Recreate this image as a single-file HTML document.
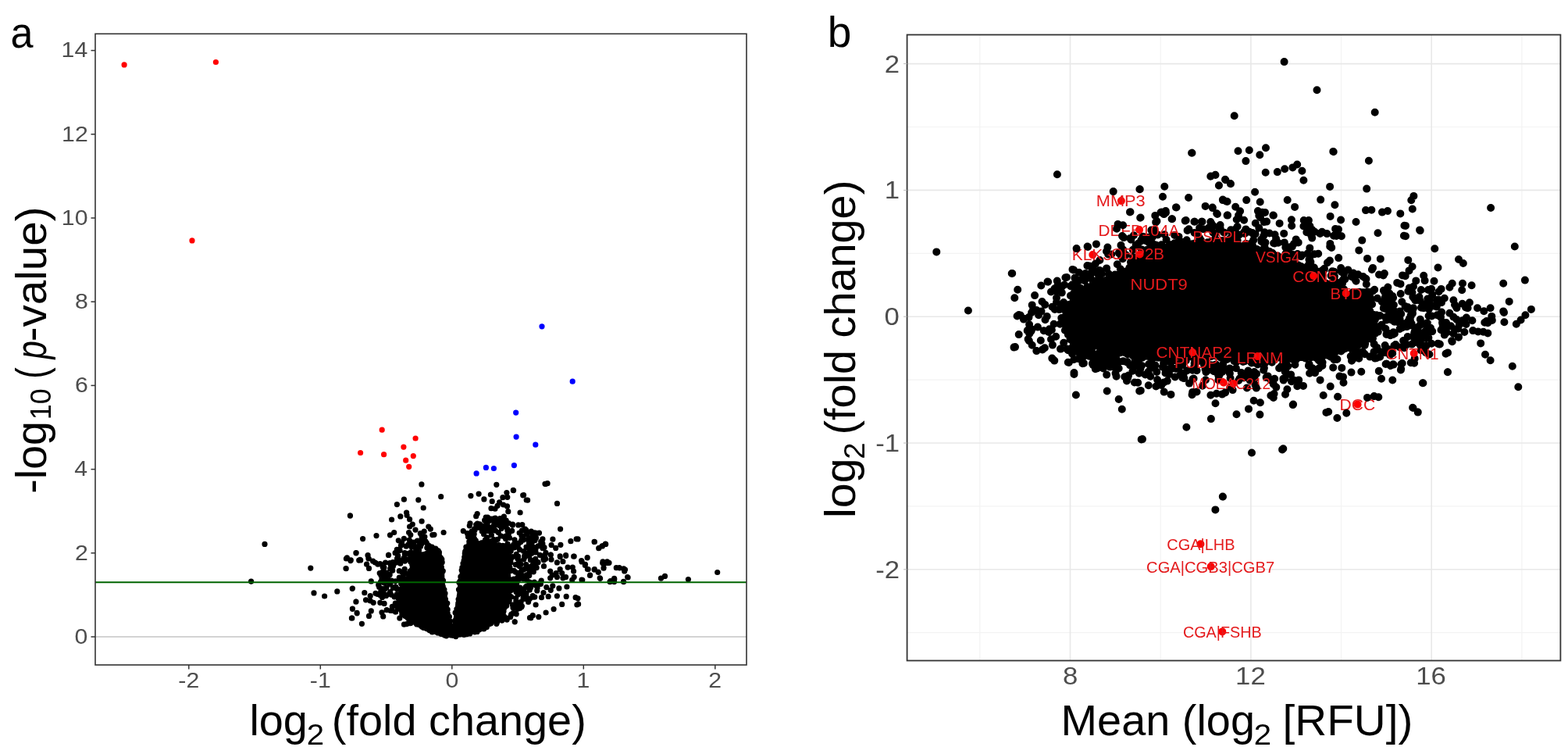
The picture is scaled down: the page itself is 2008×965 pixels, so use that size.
<!DOCTYPE html><html><head><meta charset="utf-8"><style>html,body{margin:0;padding:0;background:#fff;overflow:hidden}svg{display:block}</style></head><body><svg width="2008" height="965" viewBox="0 0 2008 965" font-family='"Liberation Sans", Arial, sans-serif'><rect width="2008" height="965" fill="#fff"/><line x1="122.0" x2="956.0" y1="815.0" y2="815.0" stroke="#c4c4c4" stroke-width="1.7"/><path d="M522.0 735.0 L528.0 718.0 L538.0 708.0 L550.0 703.0 L560.0 701.0 L564.8 705.0 L567.8 719.0 L569.2 733.5 L569.6 745.2 L572.8 762.6 L575.0 777.0 L577.7 791.0 L579.2 798.5 L580.7 791.0 L582.8 777.0 L585.0 762.6 L586.4 745.2 L588.6 733.5 L591.5 719.0 L592.2 704.5 L597.0 697.0 L603.0 693.0 L615.0 693.0 L635.0 694.0 L650.0 698.0 L655.0 710.0 L654.0 735.0 L653.0 760.0 L650.0 778.0 L642.0 790.0 L630.0 800.0 L618.0 808.0 L600.0 813.0 L580.0 817.0 L560.0 813.0 L545.0 808.0 L530.0 800.0 L518.0 792.0 L510.0 780.0 L508.0 765.0 L512.0 750.0 L517.0 742.0 Z" fill="#000"/><path d="M448.4 659.9h0M339.0 696.4h0M455.9 707.7h0M443.4 715.0h0M448.9 717.6h0M459.7 717.1h0M397.8 727.1h0M443.0 727.6h0M321.6 744.1h0M451.2 753.3h0M402.0 758.9h0M415.6 763.0h0M431.8 756.9h0M455.9 770.2h0M451.4 779.3h0M457.2 784.8h0M450.4 791.2h0M539.9 619.9h0M517.4 639.2h0M535.8 639.8h0M508.4 645.6h0M542.2 650.0h0M448.5 660.1h0M520.6 656.0h0M521.1 659.5h0M512.8 660.9h0M501.6 665.0h0M524.6 664.7h0M540.1 667.2h0M528.3 671.1h0M524.6 674.0h0M548.8 674.0h0M551.3 677.1h0M532.0 678.1h0M504.7 681.5h0M499.5 684.8h0M523.6 681.5h0M525.8 684.6h0M543.2 680.2h0M538.3 682.7h0M543.9 687.1h0M540.1 687.1h0M553.8 684.6h0M482.0 685.6h0M464.6 689.6h0M517.4 689.3h0M510.3 691.8h0M514.6 694.5h0M534.5 692.0h0M513.4 698.3h0M522.7 697.0h0M527.1 700.1h0M532.7 699.5h0M532.7 703.2h0M512.1 704.5h0M529.6 707.6h0M518.4 707.6h0M553.2 700.1h0M456.2 707.6h0M471.1 710.7h0M497.5 710.4h0M509.7 712.6h0M444.4 713.8h0M449.3 716.9h0M461.1 716.3h0M472.3 715.0h0M456.0 707.8h0M444.0 714.3h0M449.1 717.3h0M461.7 716.9h0M443.2 727.7h0M471.0 710.8h0M471.9 714.8h0M477.6 718.2h0M469.6 722.2h0M472.5 727.4h0M480.5 720.0h0M483.9 722.2h0M486.8 721.7h0M490.2 725.7h0M493.6 720.0h0M497.6 710.3h0M499.3 720.5h0M503.9 722.8h0M502.7 730.2h0M486.2 733.6h0M489.0 737.6h0M494.2 734.2h0M496.4 738.2h0M475.3 743.9h0M497.0 745.0h0M451.4 753.0h0M485.6 751.3h0M490.2 753.6h0M466.8 758.7h0M474.2 762.7h0M481.0 759.3h0M483.3 760.4h0M491.3 760.4h0M468.5 767.8h0M474.2 769.0h0M478.2 771.3h0M486.8 771.3h0M456.0 770.1h0M451.4 779.2h0M457.1 784.4h0M450.8 791.2h0M463.4 798.3h0M475.3 781.9h0M472.5 788.4h0M489.0 783.8h0M490.7 788.9h0M511.8 791.2h0M517.5 799.2h0M509.6 704.6h0M509.6 713.1h0M518.7 708.0h0M530.1 708.0h0M635.8 620.3h0M657.6 627.6h0M648.9 630.5h0M669.7 633.8h0M564.7 635.7h0M602.9 634.6h0M613.1 632.1h0M628.4 633.0h0M619.9 638.9h0M643.9 636.7h0M649.8 636.3h0M674.2 640.0h0M630.2 641.7h0M639.6 642.9h0M644.6 646.0h0M649.5 647.9h0M637.1 647.3h0M629.0 650.7h0M634.0 651.2h0M650.8 654.7h0M666.1 656.0h0M611.2 657.5h0M609.7 660.7h0M622.2 662.2h0M632.7 663.7h0M645.4 661.2h0M640.8 664.9h0M602.0 669.9h0M601.3 672.8h0M609.7 671.5h0M656.4 672.1h0M663.8 671.9h0M668.8 671.5h0M593.3 679.6h0M598.5 682.7h0M568.1 681.5h0M556.0 684.3h0M672.5 677.1h0M607.2 677.7h0M657.3 627.4h0M699.1 619.3h0M698.0 619.3h0M701.1 618.7h0M670.6 633.6h0M675.6 640.2h0M713.5 644.4h0M717.6 677.1h0M707.9 690.2h0M730.9 692.7h0M738.2 689.8h0M761.4 693.5h0M775.7 696.4h0M771.4 698.9h0M767.0 701.4h0M717.9 697.3h0M706.1 697.6h0M711.7 701.4h0M734.7 712.2h0M724.7 711.3h0M717.3 712.6h0M705.4 710.1h0M752.1 713.8h0M744.6 717.5h0M772.0 718.8h0M777.6 718.8h0M686.2 682.1h0M690.5 682.1h0M673.7 678.4h0M694.9 695.8h0M694.9 701.4h0M705.3 710.0h0M717.2 711.8h0M724.6 710.6h0M735.2 712.1h0M752.2 713.7h0M745.1 718.7h0M749.5 722.4h0M720.9 718.7h0M713.4 719.9h0M706.0 716.2h0M771.9 719.9h0M778.1 720.5h0M773.1 726.7h0M727.1 726.1h0M733.3 726.1h0M734.6 731.1h0M753.2 728.6h0M761.3 728.6h0M766.3 732.3h0M755.7 736.1h0M768.2 739.8h0M745.8 742.3h0M735.2 738.6h0M732.7 742.3h0M786.8 741.0h0M781.8 743.5h0M789.3 726.7h0M717.2 728.6h0M719.7 733.6h0M724.6 738.6h0M712.2 733.6h0M704.7 731.1h0M707.2 736.1h0M704.7 739.8h0M713.4 738.6h0M720.9 739.8h0M725.9 751.0h0M715.9 752.9h0M707.8 749.8h0M699.8 751.6h0M705.3 755.3h0M713.4 762.8h0M725.2 763.4h0M737.1 764.7h0M738.9 774.0h0M719.7 773.4h0M709.1 779.6h0M699.1 784.0h0M689.8 789.6h0M679.9 790.8h0M682.3 787.7h0M659.3 795.8h0M661.2 785.8h0M686.1 774.0h0M702.2 763.4h0M693.5 764.7h0M684.8 764.1h0M696.0 758.5h0M659.2 795.8h0M660.9 785.6h0M678.5 790.7h0M780.0 720.3h0M793.1 726.5h0M798.7 727.8h0M800.5 729.0h0M803.6 738.6h0M798.7 744.6h0M786.2 741.5h0M781.2 744.6h0M846.5 740.2h0M851.5 737.4h0M881.4 741.5h0M918.7 732.5h0M761.1 693.4h0M775.4 696.1h0M771.1 698.9h0M766.7 701.7h0M752.2 713.8h0M745.0 718.9h0M749.3 723.5h0M752.4 728.5h0M755.5 736.5h0M761.1 729.1h0M766.1 732.2h0M768.6 740.3h0M771.7 720.4h0M777.3 720.4h0M773.0 727.2h0M793.5 727.0h0M799.7 728.5h0M799.7 730.9h0M804.1 739.0h0M798.5 744.4h0M786.6 740.3h0M786.6 744.6h0M781.0 744.6h0M745.0 742.1h0M740.0 689.9h0M740.0 765.8h0M740.6 773.2h0M709.1 779.6h0M738.9 774.0h0M649.2 793.1h0M682.1 717.9h0M674.4 735.8h0M617.2 697.5h0M674.0 700.0h0M652.3 699.5h0M649.7 677.1h0M660.8 769.0h0M643.8 669.7h0M662.7 779.5h0M657.7 697.2h0M683.3 731.8h0M649.1 765.7h0M667.1 770.4h0M615.9 672.3h0M687.2 726.6h0M624.5 662.0h0M663.2 761.1h0M682.9 700.2h0M689.1 719.8h0M664.7 695.1h0M675.9 690.4h0M681.9 683.9h0M667.9 685.8h0M664.0 720.9h0M686.2 748.9h0M680.3 708.5h0M652.5 688.3h0M622.7 671.2h0M668.6 678.9h0M665.2 724.4h0M657.0 777.7h0M671.6 711.7h0M607.4 689.3h0M678.3 766.5h0M667.7 730.5h0M618.1 679.4h0M648.6 770.1h0M650.7 681.7h0M696.4 716.8h0M636.6 796.5h0M661.0 757.4h0M650.2 703.9h0M637.1 791.8h0M674.9 711.0h0M662.7 714.0h0M697.0 700.7h0M673.8 722.5h0M684.3 745.2h0M679.8 748.6h0M609.3 691.9h0M654.5 714.9h0M678.3 745.1h0M658.6 701.0h0M677.4 695.9h0M652.2 768.6h0M651.0 746.0h0M599.5 687.0h0M666.2 740.3h0M624.7 679.6h0M600.8 685.3h0M642.9 794.1h0M665.8 778.5h0M623.1 697.7h0M626.0 674.6h0M673.1 751.4h0M640.7 756.2h0M644.2 783.9h0M628.9 664.0h0M674.4 708.0h0M639.6 672.4h0M692.4 747.5h0M608.1 676.7h0M644.5 673.8h0M661.7 746.7h0M665.7 757.3h0M602.8 684.1h0M654.0 730.4h0M696.5 724.7h0M660.5 695.8h0M637.5 792.6h0M663.5 742.3h0M618.0 680.2h0M634.0 669.1h0M679.8 698.1h0M673.6 678.6h0M616.5 694.8h0M647.4 733.6h0M645.8 736.2h0M649.6 703.2h0M647.8 666.1h0M652.5 720.4h0M667.9 776.8h0M622.0 675.0h0M645.6 749.9h0M635.9 798.3h0M680.6 725.9h0M663.2 699.7h0M670.0 691.1h0M605.5 690.2h0M666.9 722.2h0M651.5 682.9h0M645.2 772.2h0M662.9 739.2h0M686.5 688.4h0M655.7 679.3h0M670.5 738.4h0M640.0 788.5h0M685.0 691.7h0M653.6 789.7h0M670.9 715.8h0M669.8 761.5h0M679.7 698.7h0M661.2 772.6h0M688.7 719.3h0M623.6 663.8h0M678.3 754.9h0M639.8 664.6h0M633.3 673.1h0M670.6 705.5h0M668.1 735.9h0M645.0 782.2h0M651.6 721.6h0M658.2 730.3h0M671.8 679.2h0M670.4 754.9h0M670.8 740.9h0M678.0 730.8h0M619.5 674.1h0M633.0 690.8h0M614.3 670.9h0M649.9 678.9h0M650.6 736.4h0M647.6 689.7h0M641.2 782.0h0M692.7 693.4h0M671.5 728.3h0M677.9 711.0h0M652.4 712.2h0M689.1 698.8h0M698.6 715.3h0M647.7 686.1h0M681.4 707.8h0M667.7 691.4h0M620.6 665.9h0M619.5 683.6h0M632.2 672.5h0M663.6 712.2h0M654.5 786.9h0M693.2 743.0h0M648.2 666.2h0M685.0 721.1h0M675.0 683.0h0M659.4 777.3h0M651.1 722.8h0M656.4 774.2h0M656.3 712.7h0M697.7 712.1h0M622.2 676.4h0M641.4 773.2h0M670.0 688.9h0M661.7 774.9h0M695.5 711.3h0M658.7 750.0h0M641.0 784.3h0M642.4 762.5h0M640.8 699.8h0M679.6 700.6h0M641.0 699.0h0M678.5 705.3h0M672.8 712.3h0M613.5 671.4h0M643.9 756.7h0M685.7 715.3h0M670.0 765.9h0M604.1 680.2h0M674.0 759.1h0M679.3 707.3h0M631.4 676.4h0M642.3 676.3h0M652.5 747.8h0M656.5 671.0h0M660.7 765.6h0M681.2 687.9h0M681.4 693.9h0M679.3 750.3h0M679.4 716.7h0M642.8 789.5h0M603.4 682.7h0M679.6 725.3h0M637.3 690.3h0M640.2 761.0h0M657.3 784.4h0M648.3 671.7h0M646.6 668.4h0M683.2 764.1h0M631.5 666.4h0M659.0 690.9h0M668.4 679.1h0M666.0 752.1h0M671.5 766.4h0M639.1 665.7h0M650.0 696.1h0M684.6 682.0h0M623.6 687.8h0M634.2 663.2h0M641.6 667.6h0M621.4 691.2h0M630.3 678.4h0M645.0 756.6h0M685.4 703.5h0M661.3 756.0h0M652.6 752.5h0M608.0 678.6h0M695.9 715.7h0M674.4 750.2h0M654.2 755.4h0M638.3 681.6h0M608.4 691.0h0M660.1 732.1h0M634.4 679.1h0M657.9 741.1h0M665.4 703.4h0M661.3 709.4h0M680.3 680.1h0M644.1 777.9h0M643.3 744.5h0M676.6 770.5h0M682.1 701.3h0M650.8 739.5h0M674.2 710.8h0M694.9 689.9h0M645.7 789.0h0M622.4 692.6h0M651.4 669.5h0M658.9 696.0h0M660.4 722.7h0M685.9 703.1h0M675.9 700.8h0M645.2 741.1h0M633.8 692.1h0M669.3 736.8h0M666.9 693.6h0M670.4 729.2h0M624.6 668.3h0M660.7 748.4h0M637.2 786.3h0M674.2 683.4h0M631.8 694.8h0M685.1 704.8h0M674.3 725.0h0M654.2 705.3h0M698.2 714.6h0M688.1 752.2h0M691.3 710.3h0M681.8 723.7h0M682.2 762.5h0M650.0 686.5h0M679.6 751.9h0M659.4 696.8h0M600.8 693.2h0M654.0 719.9h0M644.0 772.1h0M646.1 686.9h0M653.7 763.4h0M667.4 774.5h0M625.0 692.9h0M652.6 712.9h0M674.0 679.3h0M607.2 683.6h0M668.4 775.8h0M662.1 741.6h0M640.9 767.5h0M627.4 697.7h0M616.8 697.7h0M639.7 776.1h0M664.7 717.7h0M678.0 745.1h0M644.4 784.3h0M665.2 682.0h0M674.7 741.8h0M652.3 719.3h0M648.4 791.0h0M617.3 680.0h0M666.2 771.2h0M646.4 723.3h0M611.3 670.2h0M655.6 745.3h0M698.9 707.4h0M690.6 746.7h0M656.1 751.7h0M684.8 681.9h0M641.3 685.9h0M654.6 763.8h0M694.2 693.9h0M646.2 765.5h0M617.0 673.8h0M678.1 688.9h0M629.5 692.7h0M654.9 786.1h0M647.8 742.1h0M653.6 755.9h0M677.8 736.4h0M662.5 776.0h0M662.9 753.7h0M686.1 706.8h0M650.2 770.4h0M646.9 758.6h0M644.9 673.2h0M653.9 704.6h0M683.4 726.1h0M640.3 663.7h0M612.9 675.2h0M673.9 762.4h0M687.8 755.9h0M662.8 715.1h0M627.7 666.0h0M675.3 725.7h0M611.8 675.2h0M633.1 690.8h0M663.2 733.6h0M629.4 684.9h0M647.5 752.9h0M528.5 773.4h0M500.2 722.7h0M526.0 734.0h0M534.0 715.3h0M525.9 711.0h0M532.4 761.0h0M523.5 708.4h0M539.8 690.5h0M534.2 708.7h0M501.4 743.0h0M510.3 703.3h0M513.4 717.9h0M533.5 753.6h0M542.2 691.3h0M499.6 757.7h0M527.8 783.2h0M490.1 731.9h0M514.7 748.0h0M510.7 773.0h0M513.8 755.4h0M490.4 742.0h0M526.2 753.8h0M538.9 723.6h0M519.8 773.5h0M547.4 718.0h0M542.6 737.9h0M511.2 730.7h0M520.9 798.6h0M494.9 752.0h0M533.2 771.4h0M489.1 757.7h0M518.2 728.4h0M557.8 702.0h0M537.9 713.1h0M518.5 718.1h0M524.6 787.7h0M489.5 764.4h0M548.9 698.2h0M539.6 696.5h0M522.7 760.5h0M495.2 780.6h0M500.8 743.8h0M502.3 776.3h0M503.1 719.6h0M533.2 727.5h0M529.4 731.2h0M550.9 708.0h0M523.8 756.9h0M514.5 783.1h0M514.8 731.9h0M509.5 763.1h0M503.4 752.3h0M544.0 711.6h0M515.3 743.7h0M517.9 763.2h0M527.2 792.7h0M493.0 753.5h0M530.2 789.4h0M523.2 759.2h0M538.4 699.5h0M487.7 757.4h0M527.5 741.4h0M484.7 748.7h0M489.5 764.5h0M488.0 755.8h0M531.4 756.3h0M506.7 751.0h0M516.9 781.2h0M490.4 731.5h0M517.6 757.5h0M510.3 765.9h0M499.9 747.6h0M508.3 760.5h0M528.1 767.5h0M516.7 716.4h0M512.5 721.0h0M535.9 723.7h0M511.9 771.8h0M535.2 708.2h0M528.6 795.4h0M499.2 735.4h0M492.7 753.9h0M507.6 773.8h0M523.8 750.9h0M494.9 733.2h0M534.4 767.0h0M509.6 711.1h0M534.8 709.1h0M529.7 694.8h0M488.0 736.6h0M518.1 783.7h0M514.8 786.4h0M517.1 714.4h0M520.3 782.7h0M551.3 699.8h0M503.5 724.4h0M497.3 742.8h0M488.9 741.6h0M555.4 707.3h0M551.4 725.7h0M530.0 771.3h0M543.2 737.5h0M506.1 707.7h0M522.9 715.9h0M537.2 751.0h0M514.0 767.5h0M530.3 713.6h0M508.2 753.4h0M500.1 781.5h0M517.5 770.5h0M508.5 715.0h0M542.9 725.2h0M512.4 767.7h0M529.6 763.3h0M495.2 761.4h0M499.7 727.8h0M506.6 783.2h0M528.1 727.4h0M524.7 742.1h0M525.4 716.8h0M512.4 741.8h0M529.1 713.4h0M545.0 692.8h0M501.0 761.2h0M494.0 737.5h0M506.7 720.3h0M508.3 703.3h0M553.6 707.9h0M516.7 740.3h0M502.0 781.5h0M492.3 746.2h0M524.2 691.1h0M545.6 730.5h0M518.8 708.2h0M514.3 741.1h0M529.8 694.0h0M516.5 745.3h0M536.1 739.7h0M530.3 793.5h0M527.8 782.9h0M546.5 733.6h0M509.0 778.5h0M497.5 745.3h0M512.7 721.2h0M534.8 742.5h0M527.5 785.5h0M535.4 704.5h0M526.4 756.7h0M500.5 726.8h0M526.5 732.1h0M535.5 738.7h0M523.1 797.6h0M487.2 762.0h0M540.0 710.4h0M549.4 703.9h0M545.5 711.8h0M516.4 734.7h0M527.5 761.7h0M524.0 793.8h0M496.8 740.2h0M522.5 743.1h0M546.8 701.1h0M516.4 777.0h0M533.3 706.9h0M499.9 746.7h0M548.1 727.4h0M492.1 772.4h0M526.1 706.9h0M506.4 743.8h0M508.4 753.4h0M513.3 775.1h0M534.0 765.8h0M535.2 755.9h0M515.0 759.2h0M511.2 739.2h0M506.3 772.2h0M548.2 728.3h0M544.8 712.3h0M534.3 758.0h0M490.2 756.2h0M487.5 744.9h0M524.8 797.6h0M531.7 725.0h0M525.8 718.9h0M536.5 704.2h0M522.9 777.2h0M525.7 797.7h0M521.1 741.4h0M525.4 730.8h0M488.4 754.3h0M513.6 747.1h0M537.2 734.5h0M530.4 732.6h0M537.3 696.2h0M494.5 762.4h0M509.1 713.7h0M527.9 760.1h0M550.1 728.6h0M521.5 715.9h0M518.4 709.3h0M510.3 762.7h0M505.0 763.8h0M519.7 734.2h0M536.9 758.1h0M509.6 711.0h0M529.8 699.9h0M535.3 778.7h0M546.3 694.8h0M525.6 693.1h0M520.2 699.2h0M527.8 698.7h0M543.8 714.2h0M491.9 726.4h0M538.5 737.1h0M522.7 773.6h0M524.6 733.1h0M527.5 729.9h0M527.8 722.9h0M528.0 722.2h0M532.1 718.8h0M534.5 714.4h0M538.9 709.7h0M542.6 709.8h0M549.9 704.8h0M552.0 704.9h0M559.4 704.1h0M561.2 704.8h0M562.4 706.9h0M564.5 713.9h0M565.8 715.9h0M566.2 719.7h0M565.3 726.2h0M567.3 730.8h0M565.6 734.6h0M567.5 743.0h0M567.0 750.7h0M568.9 754.6h0M570.0 759.4h0M570.5 767.2h0M572.8 772.0h0M571.8 773.2h0M573.2 780.2h0M573.0 784.7h0M575.4 789.3h0M576.5 795.1h0M582.8 794.3h0M584.8 788.2h0M583.1 784.2h0M584.9 779.7h0M586.9 773.7h0M587.0 771.9h0M587.1 767.0h0M588.3 762.8h0M587.5 754.6h0M587.9 745.6h0M589.2 743.6h0M589.9 738.2h0M591.2 729.8h0M591.9 726.3h0M593.0 721.2h0M594.1 717.6h0M594.8 713.1h0M595.3 708.4h0M596.9 700.1h0M600.9 696.1h0M604.0 695.1h0M613.2 695.8h0M617.6 694.9h0M621.3 696.3h0M627.3 695.7h0M630.3 695.2h0M639.0 697.5h0M644.0 698.3h0M647.5 699.3h0M650.5 704.0h0M650.5 708.7h0M652.2 713.5h0M652.2 716.7h0M653.0 720.0h0M652.9 726.3h0M651.8 731.1h0M650.3 739.2h0M651.4 740.0h0M650.4 748.3h0M652.1 750.7h0M651.1 756.2h0M651.1 760.5h0M649.9 767.2h0M649.4 769.5h0M648.7 775.3h0M645.7 778.0h0M642.6 783.6h0M639.2 787.8h0M637.9 789.6h0M634.9 792.5h0M628.7 797.8h0M626.7 798.7h0M623.3 802.6h0M619.6 805.0h0M613.1 806.2h0M611.1 808.4h0M608.0 808.8h0M601.7 810.9h0M597.8 811.7h0M594.2 812.5h0M588.8 811.9h0M583.8 814.6h0M576.6 812.6h0M571.6 813.8h0M569.6 813.2h0M565.0 811.5h0M560.7 809.9h0M553.5 809.0h0M550.4 807.0h0M542.4 803.5h0M540.3 801.9h0M533.7 798.9h0M528.0 795.1h0M527.2 794.6h0M522.6 791.2h0M518.7 788.3h0M516.1 786.7h0M511.2 779.3h0M512.3 779.4h0M511.3 770.0h0M511.0 764.6h0M512.3 761.7h0M514.1 756.2h0M514.0 754.1h0M516.4 749.9h0M517.9 744.8h0M519.7 743.5h0" stroke="#000" stroke-width="7.20" stroke-linecap="round" fill="none"/><path d="M159.1 82.9h0M276.4 79.5h0M246.0 307.9h0M489.2 550.2h0M532.1 561.0h0M516.9 572.1h0M461.6 579.5h0M491.6 581.7h0M529.3 583.6h0M519.7 589.2h0M523.7 597.3h0" stroke="#ff0000" stroke-width="7.20" stroke-linecap="round" fill="none"/><path d="M694.0 417.8h0M733.2 488.2h0M660.7 528.1h0M661.1 559.1h0M685.8 569.2h0M658.4 595.6h0M622.4 598.4h0M632.4 599.5h0M610.1 605.9h0" stroke="#0000ff" stroke-width="7.20" stroke-linecap="round" fill="none"/><line x1="122.0" x2="956.0" y1="745.3" y2="745.3" stroke="#006400" stroke-width="2"/><rect x="122.0" y="43.3" width="834.0" height="807.7" fill="none" stroke="#333333" stroke-width="1.6"/><line x1="116.5" x2="122.0" y1="815.0" y2="815.0" stroke="#333333" stroke-width="1.5"/><text transform="translate(95.62 823.80) scale(1.1000 1)" font-size="27.50" fill="#4d4d4d">0</text><line x1="116.5" x2="122.0" y1="707.8" y2="707.8" stroke="#333333" stroke-width="1.5"/><text transform="translate(95.90 716.60) scale(1.1000 1)" font-size="27.50" fill="#4d4d4d">2</text><line x1="116.5" x2="122.0" y1="600.6" y2="600.6" stroke="#333333" stroke-width="1.5"/><text transform="translate(95.35 609.40) scale(1.1000 1)" font-size="27.50" fill="#4d4d4d">4</text><line x1="116.5" x2="122.0" y1="493.4" y2="493.4" stroke="#333333" stroke-width="1.5"/><text transform="translate(95.90 502.20) scale(1.1000 1)" font-size="27.50" fill="#4d4d4d">6</text><line x1="116.5" x2="122.0" y1="386.2" y2="386.2" stroke="#333333" stroke-width="1.5"/><text transform="translate(95.90 395.00) scale(1.1000 1)" font-size="27.50" fill="#4d4d4d">8</text><line x1="116.5" x2="122.0" y1="279.0" y2="279.0" stroke="#333333" stroke-width="1.5"/><text transform="translate(78.85 287.80) scale(1.1000 1)" font-size="27.50" fill="#4d4d4d">10</text><line x1="116.5" x2="122.0" y1="171.8" y2="171.8" stroke="#333333" stroke-width="1.5"/><text transform="translate(79.12 180.60) scale(1.1000 1)" font-size="27.50" fill="#4d4d4d">12</text><line x1="116.5" x2="122.0" y1="64.6" y2="64.6" stroke="#333333" stroke-width="1.5"/><text transform="translate(78.57 73.40) scale(1.1000 1)" font-size="27.50" fill="#4d4d4d">14</text><line x1="241.8" x2="241.8" y1="851.0" y2="856.5" stroke="#333333" stroke-width="1.5"/><text transform="translate(228.32 879.50) scale(1.1000 1)" font-size="27.50" fill="#4d4d4d">-2</text><line x1="410.3" x2="410.3" y1="851.0" y2="856.5" stroke="#333333" stroke-width="1.5"/><text transform="translate(396.82 879.50) scale(1.1000 1)" font-size="27.50" fill="#4d4d4d">-1</text><line x1="578.8" x2="578.8" y1="851.0" y2="856.5" stroke="#333333" stroke-width="1.5"/><text transform="translate(570.41 879.50) scale(1.1000 1)" font-size="27.50" fill="#4d4d4d">0</text><line x1="747.3" x2="747.3" y1="851.0" y2="856.5" stroke="#333333" stroke-width="1.5"/><text transform="translate(738.50 879.50) scale(1.1000 1)" font-size="27.50" fill="#4d4d4d">1</text><line x1="915.8" x2="915.8" y1="851.0" y2="856.5" stroke="#333333" stroke-width="1.5"/><text transform="translate(907.27 879.50) scale(1.1000 1)" font-size="27.50" fill="#4d4d4d">2</text><line x1="1254.8" x2="1254.8" y1="44.5" y2="845.5" stroke="#f3f3f3" stroke-width="1.2"/><line x1="1486.2" x2="1486.2" y1="44.5" y2="845.5" stroke="#f3f3f3" stroke-width="1.2"/><line x1="1717.5" x2="1717.5" y1="44.5" y2="845.5" stroke="#f3f3f3" stroke-width="1.2"/><line x1="1948.9" x2="1948.9" y1="44.5" y2="845.5" stroke="#f3f3f3" stroke-width="1.2"/><line x1="1161.6" x2="1998.4" y1="809.7" y2="809.7" stroke="#f3f3f3" stroke-width="1.2"/><line x1="1161.6" x2="1998.4" y1="647.9" y2="647.9" stroke="#f3f3f3" stroke-width="1.2"/><line x1="1161.6" x2="1998.4" y1="486.1" y2="486.1" stroke="#f3f3f3" stroke-width="1.2"/><line x1="1161.6" x2="1998.4" y1="324.3" y2="324.3" stroke="#f3f3f3" stroke-width="1.2"/><line x1="1161.6" x2="1998.4" y1="162.5" y2="162.5" stroke="#f3f3f3" stroke-width="1.2"/><line x1="1370.5" x2="1370.5" y1="44.5" y2="845.5" stroke="#e8e8e8" stroke-width="1.6"/><line x1="1601.9" x2="1601.9" y1="44.5" y2="845.5" stroke="#e8e8e8" stroke-width="1.6"/><line x1="1833.2" x2="1833.2" y1="44.5" y2="845.5" stroke="#e8e8e8" stroke-width="1.6"/><line x1="1161.6" x2="1998.4" y1="728.8" y2="728.8" stroke="#e8e8e8" stroke-width="1.6"/><line x1="1161.6" x2="1998.4" y1="567.0" y2="567.0" stroke="#e8e8e8" stroke-width="1.6"/><line x1="1161.6" x2="1998.4" y1="405.2" y2="405.2" stroke="#e8e8e8" stroke-width="1.6"/><line x1="1161.6" x2="1998.4" y1="243.4" y2="243.4" stroke="#e8e8e8" stroke-width="1.6"/><line x1="1161.6" x2="1998.4" y1="81.6" y2="81.6" stroke="#e8e8e8" stroke-width="1.6"/><path d="M1360.0 405.0 L1366.0 390.0 L1374.0 378.0 L1385.0 368.0 L1400.0 360.0 L1420.0 352.0 L1440.0 345.0 L1450.0 335.0 L1460.0 318.0 L1470.0 314.0 L1490.0 318.0 L1520.0 314.0 L1540.0 310.0 L1565.0 308.0 L1600.0 312.0 L1630.0 320.0 L1660.0 335.0 L1700.0 358.0 L1745.0 384.0 L1760.0 400.0 L1765.0 418.0 L1755.0 435.0 L1740.0 445.0 L1720.0 452.0 L1690.0 460.0 L1650.0 462.0 L1600.0 460.0 L1560.0 460.0 L1520.0 460.0 L1480.0 462.0 L1450.0 458.0 L1420.0 452.0 L1395.0 442.0 L1368.0 437.0 L1362.0 420.0 Z" fill="#000"/><path d="M1454.8 335.4h0M1668.1 441.2h0M1463.2 423.7h0M1644.2 298.9h0M1562.6 426.6h0M1556.4 417.8h0M1536.7 308.1h0M1508.0 387.7h0M1851.5 452.8h0M1490.4 489.4h0M1586.7 432.7h0M1417.2 479.6h0M1718.3 470.9h0M1696.0 362.0h0M1615.4 408.0h0M1833.1 369.8h0M1852.1 413.0h0M1812.5 384.5h0M1726.3 345.4h0M1619.4 315.2h0M1732.2 374.3h0M1532.6 501.5h0M1663.0 450.4h0M1546.5 310.3h0M1670.4 289.7h0M1352.6 372.8h0M1597.8 414.6h0M1607.5 492.6h0M1762.7 403.3h0M1678.9 386.6h0M1724.1 398.6h0M1490.6 274.1h0M1535.4 352.0h0M1567.5 336.4h0M1676.4 332.2h0M1644.7 451.6h0M1577.7 426.5h0M1905.3 413.2h0M1681.1 356.9h0M1571.4 459.9h0M1809.1 396.5h0M1789.2 361.9h0M1903.9 410.9h0M1846.1 399.6h0M1635.7 333.2h0M1861.3 427.0h0M1419.2 325.4h0M1583.3 463.3h0M1693.7 350.6h0M1586.1 406.8h0M1684.7 432.4h0M1386.5 358.1h0M1648.4 498.3h0M1737.6 443.7h0M1453.5 365.9h0M1476.1 422.2h0M1616.3 428.7h0M1600.7 486.8h0M1787.2 441.0h0M1740.3 320.4h0M1337.9 445.3h0M1316.6 434.1h0M1468.6 381.9h0M1585.0 349.3h0M1409.9 378.5h0M1404.4 458.6h0M1677.3 331.7h0M1712.9 442.4h0M1562.6 409.0h0M1667.3 369.2h0M1396.3 350.2h0M1318.1 415.2h0M1600.4 321.9h0M1621.6 366.4h0M1512.6 420.7h0M1679.1 301.1h0M1451.9 301.2h0M1402.9 337.5h0M1808.5 374.4h0M1464.6 365.1h0M1458.5 442.5h0M1493.6 306.7h0M1479.3 275.9h0M1766.0 351.5h0M1703.2 315.4h0M1780.8 468.0h0M1509.8 470.3h0M1321.7 390.4h0M1452.2 370.0h0M1429.6 481.8h0M1480.4 494.5h0M1358.7 367.7h0M1569.4 436.5h0M1507.4 383.2h0M1581.4 320.2h0M1802.7 430.9h0M1529.1 358.3h0M1748.9 410.6h0M1593.8 424.1h0M1633.1 338.3h0M1575.7 439.4h0M1638.2 417.6h0M1596.9 496.4h0M1804.5 346.4h0M1521.8 321.8h0M1325.1 378.1h0M1825.8 451.1h0M1707.2 470.4h0M1705.2 316.9h0M1796.0 352.4h0M1347.9 441.6h0M1549.5 453.9h0M1323.1 395.8h0M1673.3 297.2h0M1481.5 351.9h0M1680.3 294.0h0M1406.4 454.2h0M1741.0 373.7h0M1467.7 432.3h0M1584.7 338.6h0M1796.7 414.0h0M1697.0 429.8h0M1418.4 316.6h0M1822.1 389.1h0M1526.6 505.2h0M1753.7 416.8h0M1439.0 304.1h0M1657.0 312.0h0M1634.3 495.6h0M1619.5 341.9h0M1754.5 414.5h0M1644.8 310.4h0M1320.6 423.6h0M1845.6 369.9h0M1683.3 325.3h0M1461.7 378.8h0M1428.0 373.7h0M1411.7 466.0h0M1524.6 326.0h0M1304.7 428.1h0M1649.3 468.7h0M1396.9 447.1h0M1811.1 464.7h0M1760.2 370.8h0M1319.9 420.5h0M1547.7 291.7h0M1574.7 471.4h0M1399.7 458.3h0M1556.6 436.1h0M1751.0 330.9h0M1799.7 353.3h0M1416.5 389.4h0M1675.9 468.1h0M1652.2 346.7h0M1704.1 456.7h0M1546.2 389.7h0M1586.6 344.4h0M1847.1 412.2h0M1877.5 415.0h0M1872.7 388.7h0M1589.2 402.5h0M1317.9 436.2h0M1774.2 395.2h0M1350.3 461.6h0M1492.4 332.8h0M1350.6 369.3h0M1714.2 330.1h0M1872.7 410.3h0M1380.3 374.2h0M1651.0 367.8h0M1553.5 297.7h0M1809.3 379.9h0M1578.4 352.6h0M1820.0 432.3h0M1618.2 301.7h0M1720.0 482.4h0M1662.5 339.2h0M1429.2 458.6h0M1801.5 418.1h0M1782.7 381.5h0M1826.5 432.9h0M1442.4 406.5h0M1703.4 311.9h0M1399.8 467.1h0M1612.3 276.1h0M1423.2 325.4h0M1771.5 352.4h0M1614.1 278.4h0M1567.9 297.8h0M1739.3 451.5h0M1834.2 377.4h0M1731.2 446.8h0M1359.3 407.0h0M1403.9 312.4h0M1875.4 425.0h0M1767.8 331.4h0M1778.8 426.7h0M1508.1 384.1h0M1446.9 408.2h0M1407.8 372.4h0M1828.9 423.8h0M1669.4 289.5h0M1807.7 414.4h0M1877.0 393.5h0M1481.8 383.8h0M1785.6 411.8h0M1824.6 359.1h0M1696.0 407.7h0M1517.4 388.3h0M1599.1 428.7h0M1630.1 340.3h0M1680.2 304.6h0M1502.9 421.9h0M1440.3 482.3h0M1630.5 429.5h0M1708.0 301.8h0M1382.0 402.1h0M1622.6 338.2h0M1526.4 325.8h0M1687.7 367.4h0M1385.5 416.9h0M1639.1 358.6h0M1634.7 416.7h0M1442.4 435.2h0M1543.5 472.5h0M1676.6 466.0h0M1354.7 364.4h0M1663.0 396.6h0M1627.4 506.3h0M1451.1 360.4h0M1646.0 504.8h0M1475.1 310.8h0M1678.4 335.2h0M1694.1 365.0h0M1774.8 387.2h0M1435.5 313.9h0M1438.2 319.5h0M1448.0 335.6h0M1666.8 391.8h0M1333.3 365.5h0M1491.4 300.3h0M1474.4 294.6h0M1452.9 489.5h0M1842.6 373.3h0M1636.4 434.4h0M1731.8 432.6h0M1753.7 407.4h0M1373.8 431.0h0M1711.4 301.9h0M1412.8 418.6h0M1533.1 461.5h0M1464.6 425.9h0M1677.4 289.2h0M1465.4 349.0h0M1480.2 284.4h0M1438.4 394.2h0M1432.4 418.4h0M1551.5 374.3h0M1420.4 455.5h0M1661.3 494.3h0M1636.0 348.5h0M1523.0 490.6h0M1618.1 359.0h0M1552.1 373.2h0M1576.1 294.7h0M1450.0 383.3h0M1399.8 435.7h0M1622.1 283.6h0M1758.0 342.9h0M1794.2 401.7h0M1886.2 423.1h0M1523.0 436.3h0M1580.3 460.2h0M1363.3 396.7h0M1772.9 350.0h0M1808.1 440.6h0M1690.5 299.0h0M1574.9 478.1h0M1606.3 376.9h0M1596.9 364.0h0M1802.6 392.9h0M1854.0 451.4h0M1398.1 389.2h0M1478.6 294.5h0M1415.2 387.8h0M1756.9 345.0h0M1516.9 374.4h0M1581.5 456.6h0M1476.3 375.5h0M1562.9 415.1h0M1828.0 420.1h0M1385.8 384.0h0M1544.3 320.6h0M1707.9 362.6h0M1811.7 458.9h0M1619.0 351.5h0M1722.3 357.5h0M1550.6 328.3h0M1601.9 370.7h0M1646.3 316.6h0M1867.3 420.8h0M1410.2 364.0h0M1463.7 379.5h0M1809.6 380.3h0M1720.9 350.5h0M1457.2 489.7h0M1654.4 328.1h0M1644.9 397.4h0M1793.5 363.4h0M1607.6 299.4h0M1830.4 453.5h0M1587.6 484.2h0M1574.4 475.8h0M1433.0 324.1h0M1534.1 338.0h0M1575.5 316.5h0M1393.3 355.6h0M1402.0 346.4h0M1539.9 493.8h0M1552.7 407.3h0M1872.2 371.3h0M1463.6 401.5h0M1754.5 380.4h0M1622.7 420.5h0M1584.7 307.8h0M1845.5 422.3h0M1642.2 402.3h0M1377.9 398.7h0M1671.5 368.2h0M1510.0 320.1h0M1338.5 409.3h0M1517.5 377.9h0M1479.5 467.6h0M1901.3 412.7h0M1482.7 314.4h0M1375.6 401.5h0M1743.3 475.8h0M1804.9 368.4h0M1515.4 310.6h0M1795.3 386.3h0M1842.0 383.4h0M1841.3 439.7h0M1648.9 443.5h0M1630.5 381.6h0M1729.7 456.1h0M1507.0 404.6h0M1550.6 447.8h0M1846.0 387.3h0M1659.7 306.4h0M1751.5 373.4h0M1400.0 346.0h0M1673.8 344.2h0M1532.7 441.5h0M1507.4 363.1h0M1795.9 419.3h0M1881.9 387.2h0M1334.5 386.0h0M1321.7 441.8h0M1641.6 360.8h0M1382.8 358.6h0M1450.5 474.7h0M1605.2 438.0h0M1359.4 367.4h0M1492.6 473.8h0M1576.6 307.6h0M1487.3 492.9h0M1409.5 462.2h0M1657.6 390.0h0M1526.4 425.7h0M1774.4 420.7h0M1645.6 475.6h0M1443.0 487.4h0M1494.8 487.6h0M1748.2 439.8h0M1673.9 453.1h0M1486.6 442.6h0M1363.9 422.8h0M1444.2 483.5h0M1665.7 369.7h0M1531.0 373.0h0M1575.2 496.0h0M1782.0 409.4h0M1757.1 389.5h0M1449.3 378.4h0M1473.2 398.1h0M1402.1 453.4h0M1657.5 420.8h0M1584.1 300.6h0M1478.6 385.6h0M1801.3 441.1h0M1589.6 476.9h0M1557.9 503.7h0M1623.3 413.1h0M1543.6 263.9h0M1376.4 355.8h0M1350.8 395.9h0M1482.1 486.0h0M1584.6 290.0h0M1806.8 464.3h0M1522.4 293.2h0M1569.5 445.1h0M1810.0 366.7h0M1477.0 383.1h0M1741.5 401.3h0M1709.0 353.8h0M1356.5 396.1h0M1452.3 455.8h0M1447.3 304.9h0M1535.9 319.6h0M1674.2 354.6h0M1618.2 473.8h0M1455.1 402.2h0M1588.1 270.2h0M1754.3 456.6h0M1562.7 292.3h0M1330.1 403.2h0M1565.1 504.6h0M1448.4 306.7h0M1493.4 476.9h0M1648.2 364.5h0M1820.0 393.7h0M1483.4 410.2h0M1691.1 407.5h0M1468.8 424.0h0M1576.2 410.4h0M1849.8 428.6h0M1561.7 426.3h0M1605.2 307.4h0M1452.6 411.9h0M1687.8 374.0h0M1763.7 405.2h0M1367.8 428.1h0M1771.8 394.4h0M1742.8 432.9h0M1495.5 382.8h0M1487.6 430.1h0M1542.7 460.4h0M1680.8 471.3h0M1747.1 374.2h0M1394.3 384.4h0M1605.1 307.6h0M1623.7 481.4h0M1352.2 430.8h0M1646.6 444.5h0M1481.3 476.0h0M1658.4 466.7h0M1529.7 407.0h0M1346.9 422.3h0M1593.2 297.1h0M1573.5 455.0h0M1451.4 373.9h0M1556.7 384.5h0M1394.7 416.6h0M1586.2 486.9h0M1667.5 326.4h0M1394.4 423.8h0M1606.3 479.4h0M1594.2 462.2h0M1520.2 342.1h0M1514.3 483.4h0M1554.5 475.2h0M1621.1 449.8h0M1443.7 463.0h0M1544.4 476.1h0M1497.9 365.3h0M1602.8 464.4h0M1596.9 457.6h0M1797.1 436.0h0M1509.2 472.1h0M1538.4 433.1h0M1754.2 424.5h0M1742.3 417.5h0M1775.5 427.9h0M1693.6 463.8h0M1401.5 374.7h0M1620.0 399.2h0M1374.2 443.8h0M1481.7 378.7h0M1594.0 299.0h0M1806.7 404.7h0M1470.8 303.7h0M1625.7 298.5h0M1711.8 416.1h0M1674.4 357.5h0M1486.3 441.6h0M1845.0 405.9h0M1457.5 355.3h0M1561.5 450.2h0M1453.5 463.6h0M1652.8 341.8h0M1408.1 345.9h0M1713.5 404.5h0M1720.3 411.7h0M1642.7 397.1h0M1738.6 423.7h0M1684.4 354.7h0M1450.8 442.8h0M1666.8 439.5h0M1413.7 449.9h0M1622.6 393.7h0M1689.5 394.1h0M1417.1 343.4h0M1404.3 440.2h0M1449.4 403.5h0M1552.7 402.3h0M1818.1 384.0h0M1409.9 424.9h0M1497.9 338.4h0M1491.5 373.5h0M1739.1 441.9h0M1596.6 426.9h0M1593.2 317.9h0M1668.2 448.5h0M1519.5 318.6h0M1449.5 419.5h0M1660.4 408.1h0M1557.4 406.2h0M1577.9 362.2h0M1532.3 455.8h0M1677.8 390.8h0M1460.8 327.6h0M1702.9 333.5h0M1595.5 311.9h0M1421.3 469.6h0M1697.1 389.5h0M1761.3 426.6h0M1681.9 382.4h0M1634.1 441.5h0M1528.7 420.6h0M1407.4 460.5h0M1654.8 315.8h0M1456.4 352.7h0M1378.1 383.7h0M1608.7 397.2h0M1548.2 325.0h0M1721.3 374.2h0M1360.9 409.2h0M1618.9 471.0h0M1636.9 310.7h0M1613.1 345.7h0M1553.4 361.7h0M1809.0 401.1h0M1773.3 374.0h0M1515.6 478.9h0M1454.3 434.8h0M1563.9 443.2h0M1693.4 468.0h0M1420.7 464.2h0M1437.7 372.8h0M1637.1 357.6h0M1397.3 388.7h0M1567.8 351.5h0M1763.9 381.8h0M1515.0 337.0h0M1798.3 445.2h0M1632.3 311.4h0M1619.4 297.2h0M1402.9 361.8h0M1619.2 447.0h0M1461.7 454.8h0M1413.9 371.2h0M1526.5 442.1h0M1625.0 399.1h0M1473.6 426.2h0M1773.6 451.3h0M1769.3 415.7h0M1371.9 427.6h0M1479.8 313.6h0M1773.7 442.1h0M1694.3 407.4h0M1594.5 375.1h0M1408.4 387.3h0M1634.2 414.6h0M1694.8 419.2h0M1467.7 385.6h0M1661.6 325.0h0M1679.4 404.0h0M1739.0 394.3h0M1373.3 364.2h0M1565.4 408.6h0M1554.3 370.3h0M1373.1 452.8h0M1598.4 474.6h0M1548.5 387.4h0M1718.6 442.7h0M1712.1 421.9h0M1458.1 416.4h0M1783.2 452.3h0M1433.1 351.1h0M1613.0 411.7h0M1460.8 355.9h0M1649.3 414.4h0M1724.5 395.4h0M1621.9 346.3h0M1735.9 426.8h0M1852.0 420.4h0M1525.9 396.3h0M1508.8 323.7h0M1648.7 318.4h0M1653.1 479.4h0M1687.9 400.2h0M1721.1 370.2h0M1395.8 431.1h0M1578.6 454.2h0M1478.1 350.4h0M1512.4 314.8h0M1805.2 415.9h0M1684.0 440.1h0M1784.9 390.3h0M1463.8 321.4h0M1645.7 437.1h0M1817.5 380.1h0M1597.1 391.6h0M1487.3 314.0h0M1390.4 351.8h0M1568.0 309.1h0M1675.2 418.6h0M1447.9 378.8h0M1752.3 380.3h0M1693.6 345.9h0M1588.7 460.1h0M1433.3 463.1h0M1409.1 349.9h0M1561.6 479.7h0M1533.1 352.8h0M1668.7 431.7h0M1560.4 474.7h0M1357.4 414.7h0M1535.9 388.6h0M1507.8 312.5h0M1632.2 484.7h0M1408.5 462.9h0M1682.9 342.6h0M1840.4 403.2h0M1408.7 396.2h0M1384.5 380.2h0M1605.8 478.1h0M1622.0 401.7h0M1628.9 463.8h0M1447.7 392.8h0M1785.9 427.0h0M1529.6 297.9h0M1746.0 398.2h0M1571.3 417.8h0M1463.4 361.2h0M1483.3 317.1h0M1693.1 362.1h0M1541.2 402.3h0M1675.3 443.0h0M1696.0 343.8h0M1380.3 407.8h0M1442.0 366.0h0M1528.7 327.9h0M1594.1 391.3h0M1470.8 475.6h0M1631.1 311.2h0M1746.2 420.4h0M1538.5 440.8h0M1730.6 353.9h0M1808.0 416.4h0M1349.6 414.7h0M1398.9 378.8h0M1594.1 296.7h0M1487.4 313.2h0M1528.8 443.0h0M1752.3 392.9h0M1782.9 379.5h0M1558.8 410.3h0M1610.2 339.2h0M1722.6 422.2h0M1422.0 400.2h0M1606.6 397.2h0M1627.2 424.7h0M1569.8 390.6h0M1570.4 404.3h0M1598.5 432.7h0M1561.7 444.5h0M1508.8 309.5h0M1579.9 415.5h0M1640.2 452.0h0M1849.3 413.0h0M1610.6 466.5h0M1451.6 400.6h0M1661.5 346.0h0M1723.6 437.8h0M1650.6 327.7h0M1468.5 396.5h0M1456.8 429.2h0M1663.8 424.5h0M1680.2 446.2h0M1482.6 422.6h0M1568.4 309.2h0M1708.5 451.2h0M1488.8 358.3h0M1550.0 467.3h0M1526.7 447.6h0M1852.6 425.4h0M1687.9 422.6h0M1538.7 356.0h0M1431.7 428.0h0M1432.9 323.4h0M1387.3 354.2h0M1561.1 473.9h0M1386.5 436.6h0M1459.5 454.5h0M1540.4 412.1h0M1671.3 444.1h0M1785.3 397.9h0M1613.9 358.6h0M1554.7 467.4h0M1483.8 408.7h0M1519.6 451.0h0M1521.6 326.0h0M1557.0 394.9h0M1745.5 353.9h0M1688.8 461.3h0M1620.0 464.8h0M1603.8 298.0h0M1601.2 362.2h0M1523.8 380.3h0M1785.4 442.4h0M1718.5 438.6h0M1538.3 459.1h0M1591.8 380.1h0M1683.4 439.9h0M1477.0 426.0h0M1769.8 386.2h0M1436.3 411.6h0M1484.7 319.7h0M1523.2 332.2h0M1460.4 472.1h0M1375.0 389.9h0M1618.2 391.1h0M1383.6 368.7h0M1618.9 395.8h0M1778.9 402.1h0M1461.0 308.6h0M1447.3 432.0h0M1708.4 460.3h0M1459.9 327.6h0M1390.5 445.8h0M1434.4 412.9h0M1486.0 421.9h0M1544.2 452.0h0M1520.6 294.9h0M1454.5 332.3h0M1462.5 325.0h0M1500.8 422.3h0M1375.5 449.9h0M1406.5 442.5h0M1705.6 386.4h0M1567.1 297.4h0M1824.0 414.7h0M1461.6 319.3h0M1818.8 408.8h0M1763.4 444.9h0M1682.8 383.9h0M1605.5 389.0h0M1704.2 365.6h0M1546.7 474.3h0M1606.0 299.2h0M1524.0 375.0h0M1710.7 442.4h0M1480.7 299.6h0M1604.3 332.5h0M1592.9 483.4h0M1648.5 441.6h0M1566.3 365.1h0M1547.4 416.9h0M1450.8 319.8h0M1513.7 343.7h0M1452.6 387.2h0M1506.6 345.4h0M1825.8 390.3h0M1437.3 377.6h0M1662.5 377.9h0M1677.1 376.8h0M1732.3 459.9h0M1722.2 418.6h0M1832.0 419.7h0M1592.7 450.9h0M1740.3 458.8h0M1542.5 455.4h0M1626.3 360.3h0M1560.5 472.2h0M1514.3 467.1h0M1704.5 352.9h0M1387.0 457.0h0M1492.5 477.5h0M1442.5 385.4h0M1609.9 323.9h0M1577.8 300.4h0M1390.1 349.9h0M1529.6 464.9h0M1538.5 365.4h0M1575.0 352.3h0M1552.7 467.6h0M1792.6 398.4h0M1391.8 435.5h0M1516.6 459.8h0M1699.2 397.1h0M1488.1 401.9h0M1829.4 432.3h0M1531.3 418.4h0M1488.9 342.1h0M1690.4 462.4h0M1708.5 347.7h0M1450.5 445.9h0M1466.8 434.1h0M1443.8 356.6h0M1550.6 309.2h0M1618.1 355.5h0M1379.6 445.8h0M1573.2 358.0h0M1628.5 353.9h0M1652.1 421.0h0M1833.6 404.5h0M1562.5 323.5h0M1498.2 449.1h0M1773.9 380.2h0M1432.7 438.0h0M1708.2 354.7h0M1586.8 438.5h0M1614.4 380.2h0M1586.2 353.7h0M1514.2 448.6h0M1503.5 378.9h0M1640.5 399.1h0M1548.2 326.7h0M1405.0 422.8h0M1739.1 375.6h0M1744.8 403.2h0M1758.2 372.5h0M1495.1 427.4h0M1452.4 440.1h0M1688.3 389.9h0M1434.8 344.2h0M1506.2 389.2h0M1759.7 440.4h0M1376.5 367.1h0M1553.7 414.5h0M1406.6 351.5h0M1697.6 378.5h0M1784.2 398.1h0M1847.9 415.7h0M1545.7 375.6h0M1753.0 379.2h0M1566.1 318.0h0M1739.1 380.2h0M1409.2 379.3h0M1687.3 449.7h0M1621.9 342.1h0M1530.3 402.5h0M1391.0 449.7h0M1536.1 291.8h0M1609.4 373.6h0M1500.0 472.3h0M1756.0 383.8h0M1481.3 315.4h0M1530.6 407.3h0M1812.9 438.0h0M1696.2 376.8h0M1692.4 354.5h0M1577.3 360.7h0M1798.9 436.8h0M1595.6 399.5h0M1502.3 335.1h0M1717.2 343.0h0M1699.0 404.9h0M1552.7 353.4h0M1504.4 405.6h0M1389.3 448.4h0M1546.8 426.5h0M1665.8 367.9h0M1574.0 434.9h0M1474.6 458.6h0M1475.6 431.5h0M1571.1 388.7h0M1781.1 381.4h0M1579.1 428.4h0M1466.0 353.5h0M1615.2 306.5h0M1509.5 334.8h0M1666.3 407.4h0M1747.7 441.9h0M1492.2 424.6h0M1527.7 376.6h0M1686.0 369.3h0M1817.8 383.9h0M1532.5 297.9h0M1600.0 296.8h0M1473.4 334.7h0M1549.3 426.8h0M1528.6 429.7h0M1522.3 424.1h0M1560.4 486.5h0M1588.9 436.4h0M1401.9 467.7h0M1677.1 477.7h0M1583.1 401.2h0M1767.3 404.0h0M1720.8 391.3h0M1433.0 372.4h0M1659.8 460.3h0M1460.3 469.3h0M1551.6 312.0h0M1370.8 428.6h0M1612.1 393.1h0M1465.0 416.5h0M1726.3 383.2h0M1651.6 324.8h0M1421.4 352.8h0M1509.5 302.9h0M1627.7 486.7h0M1811.1 432.6h0M1490.1 465.1h0M1358.9 391.5h0M1694.4 448.4h0M1827.8 413.3h0M1646.4 442.7h0M1759.5 450.3h0M1591.9 463.0h0M1399.9 361.0h0M1835.5 391.5h0M1502.7 456.7h0M1478.9 427.9h0M1626.1 349.6h0M1679.3 437.5h0M1746.4 383.2h0M1719.5 358.5h0M1541.9 466.8h0M1670.0 404.3h0M1748.8 356.4h0M1783.7 428.1h0M1694.7 427.3h0M1758.1 412.6h0M1793.7 376.0h0M1472.7 342.1h0M1403.7 368.2h0M1647.4 437.6h0M1392.5 379.3h0M1744.9 378.3h0M1474.2 470.6h0M1526.5 312.3h0M1590.6 411.7h0M1711.2 420.2h0M1709.2 374.6h0M1688.6 441.0h0M1755.4 433.8h0M1469.0 426.8h0M1615.5 309.2h0M1530.3 311.4h0M1531.9 336.5h0M1442.2 358.6h0M1784.1 381.1h0M1497.2 479.1h0M1816.1 418.5h0M1453.7 460.7h0M1371.5 408.5h0M1559.1 399.7h0M1799.5 391.9h0M1825.8 443.5h0M1510.1 466.4h0M1392.0 437.6h0M1483.8 434.3h0M1362.2 438.8h0M1635.3 458.0h0M1625.3 449.2h0M1529.2 457.1h0M1695.8 345.2h0M1687.0 347.6h0M1744.3 429.6h0M1429.9 354.1h0M1381.4 378.4h0M1464.4 357.2h0M1565.7 440.4h0M1445.1 412.1h0M1670.5 374.5h0M1807.5 398.1h0M1373.0 423.2h0M1534.4 380.0h0M1738.9 374.1h0M1599.6 362.0h0M1438.8 399.1h0M1595.9 413.5h0M1626.8 346.2h0M1456.7 394.6h0M1603.9 331.4h0M1551.7 291.6h0M1443.8 417.2h0M1700.4 444.9h0M1582.7 421.3h0M1651.7 316.3h0M1489.0 469.7h0M1626.6 388.2h0M1663.0 368.0h0M1709.8 363.1h0M1591.8 423.9h0M1553.9 366.4h0M1714.6 362.2h0M1482.8 331.1h0M1565.5 346.8h0M1605.9 390.2h0M1627.2 449.5h0M1400.3 411.7h0M1494.8 322.2h0M1615.7 330.1h0M1343.8 421.3h0M1516.0 411.9h0M1412.2 367.5h0M1672.8 424.7h0M1688.2 324.7h0M1776.7 446.5h0M1527.3 354.9h0M1392.4 340.1h0M1449.6 377.1h0M1646.3 473.4h0M1549.6 342.8h0M1460.0 423.2h0M1684.5 393.1h0M1503.7 316.4h0M1375.1 419.6h0M1662.4 399.1h0M1640.9 468.5h0M1461.9 323.2h0M1582.5 324.8h0M1451.3 418.9h0M1586.6 433.4h0M1712.5 435.7h0M1810.9 381.9h0M1585.5 327.7h0M1609.6 405.3h0M1654.4 354.8h0M1419.9 350.5h0M1474.3 465.7h0M1455.0 404.7h0M1777.4 367.6h0M1710.6 424.1h0M1429.0 465.1h0M1780.2 447.7h0M1803.7 410.6h0M1604.5 358.4h0M1727.4 442.4h0M1610.5 391.9h0M1461.0 390.4h0M1562.6 288.1h0M1419.9 468.1h0M1471.2 466.1h0M1597.8 425.9h0M1374.1 414.0h0M1519.7 307.2h0M1632.6 413.0h0M1632.8 379.3h0M1715.3 423.9h0M1454.6 313.9h0M1764.8 424.6h0M1395.3 340.6h0M1704.8 414.6h0M1746.2 377.3h0M1818.3 384.8h0M1451.6 333.3h0M1396.8 382.9h0M1435.5 327.1h0M1506.7 424.6h0M1829.8 395.7h0M1500.8 350.0h0M1423.0 426.7h0M1623.0 325.8h0M1818.4 426.1h0M1536.3 367.7h0M1738.3 389.3h0M1780.6 429.3h0M1792.6 420.9h0M1558.4 379.5h0M1802.4 395.2h0M1582.9 471.3h0M1658.0 335.8h0M1404.2 398.3h0M1519.3 318.5h0M1488.2 457.4h0M1653.7 372.4h0M1422.8 370.9h0M1378.5 436.3h0M1706.0 347.3h0M1578.8 389.8h0M1513.7 477.5h0M1518.8 461.4h0M1383.0 426.7h0M1583.9 392.2h0M1437.8 331.3h0M1476.8 387.7h0M1825.4 423.7h0M1612.4 461.4h0M1591.3 321.2h0M1511.5 479.7h0M1736.6 390.2h0M1501.9 370.2h0M1462.0 467.9h0M1391.9 350.8h0M1555.4 309.5h0M1446.5 342.9h0M1639.0 450.5h0M1447.9 368.6h0M1586.8 358.2h0M1463.8 352.7h0M1655.9 330.1h0M1561.8 396.9h0M1518.8 459.9h0M1446.4 342.5h0M1609.1 478.4h0M1535.6 449.9h0M1568.5 422.4h0M1417.6 462.1h0M1694.5 379.9h0M1504.6 449.4h0M1609.1 441.3h0M1637.0 341.2h0M1588.9 412.6h0M1819.5 448.1h0M1805.9 416.3h0M1708.5 358.8h0M1679.6 368.9h0M1630.4 402.7h0M1382.8 445.6h0M1556.2 305.4h0M1380.5 417.8h0M1464.1 372.9h0M1629.0 402.2h0M1553.0 451.1h0M1556.3 422.2h0M1680.3 354.5h0M1497.8 312.9h0M1416.4 443.3h0M1651.1 422.0h0M1413.2 445.3h0M1783.4 379.1h0M1818.8 441.8h0M1817.7 435.8h0M1441.9 326.2h0M1607.8 414.7h0M1453.7 451.8h0M1596.5 479.2h0M1697.1 368.2h0M1412.6 420.4h0M1601.1 486.1h0M1646.3 324.9h0M1781.4 390.5h0M1488.7 332.4h0M1673.8 358.1h0M1601.9 354.5h0M1396.4 352.2h0M1377.6 440.1h0M1403.4 363.1h0M1602.0 425.7h0M1490.6 450.3h0M1638.0 342.4h0M1465.3 361.2h0M1830.8 383.9h0M1520.6 436.0h0M1811.1 426.3h0M1665.2 382.6h0M1620.4 363.5h0M1420.6 391.8h0M1410.8 350.8h0M1528.6 484.5h0M1818.7 415.9h0M1628.9 461.6h0M1772.3 389.5h0M1708.9 358.3h0M1538.0 402.9h0M1674.7 324.4h0M1493.0 365.0h0M1557.1 466.4h0M1542.8 434.2h0M1540.2 455.6h0M1490.1 410.1h0M1473.9 319.7h0M1655.4 416.8h0M1431.5 443.1h0M1507.2 317.8h0M1401.3 420.3h0M1640.8 342.8h0M1526.2 385.4h0M1775.4 409.6h0M1391.9 436.4h0M1457.5 311.8h0M1715.1 369.4h0M1566.2 466.2h0M1721.5 423.3h0M1530.1 335.5h0M1590.8 317.0h0M1674.3 390.8h0M1471.0 310.1h0M1563.6 418.1h0M1556.3 436.7h0M1375.2 375.2h0M1497.0 412.8h0M1664.0 418.3h0M1501.2 392.5h0M1451.1 329.2h0M1496.8 352.3h0M1736.6 359.7h0M1530.9 374.1h0M1449.2 370.7h0M1461.4 307.2h0M1385.8 458.2h0M1645.5 484.3h0M1440.8 422.6h0M1550.7 333.1h0M1537.9 333.2h0M1577.6 452.5h0M1774.4 405.9h0M1504.1 311.2h0M1642.8 363.3h0M1527.3 394.6h0M1625.4 386.8h0M1431.5 362.5h0M1829.6 404.3h0M1649.2 349.3h0M1502.9 461.4h0M1806.0 410.3h0M1665.5 404.3h0M1536.1 304.6h0M1566.3 365.1h0M1668.1 378.2h0M1831.0 389.5h0M1494.9 415.9h0M1569.4 404.2h0M1713.0 378.7h0M1665.7 376.0h0M1568.9 431.0h0M1640.6 447.4h0M1428.4 456.0h0M1534.4 462.2h0M1544.3 377.6h0M1412.6 398.2h0M1507.2 311.0h0M1541.0 293.3h0M1592.6 336.4h0M1427.3 360.7h0M1568.1 399.2h0M1613.2 370.5h0M1347.5 392.8h0M1527.5 485.0h0M1542.4 438.9h0M1775.3 395.1h0M1560.3 397.8h0M1532.6 474.2h0M1396.2 445.6h0M1647.5 466.4h0M1604.1 314.6h0M1470.1 371.8h0M1723.8 395.0h0M1779.4 375.6h0M1512.5 420.7h0M1768.9 450.4h0M1621.6 453.3h0M1523.3 348.6h0M1705.2 370.9h0M1628.9 413.5h0M1567.0 471.1h0M1698.1 439.9h0M1612.3 291.8h0M1564.2 390.0h0M1433.1 427.0h0M1599.4 317.2h0M1556.3 299.1h0M1749.8 363.8h0M1672.2 356.4h0M1683.3 396.8h0M1636.3 444.4h0M1455.9 314.7h0M1717.9 348.0h0M1615.6 372.7h0M1370.1 415.2h0M1620.4 310.4h0M1662.6 412.0h0M1730.7 409.2h0M1491.6 445.4h0M1733.1 349.5h0M1371.1 366.3h0M1666.0 428.0h0M1659.0 416.0h0M1637.1 366.9h0M1467.7 331.5h0M1649.2 448.6h0M1743.1 385.3h0M1385.2 460.6h0M1571.7 383.0h0M1523.1 431.8h0M1459.0 399.6h0M1594.6 376.3h0M1492.3 328.5h0M1408.1 455.1h0M1744.8 374.3h0M1514.1 351.8h0M1620.4 378.5h0M1423.6 376.7h0M1490.6 410.6h0M1739.1 419.5h0M1437.2 380.0h0M1694.2 412.1h0M1749.5 357.1h0M1484.2 456.8h0M1759.4 414.0h0M1482.7 300.5h0M1605.8 300.7h0M1491.8 316.8h0M1375.3 425.7h0M1535.2 386.7h0M1748.6 383.6h0M1636.1 454.8h0M1595.3 392.2h0M1560.1 479.8h0M1390.1 354.0h0M1445.4 382.5h0M1422.3 372.8h0M1513.8 370.6h0M1606.6 484.5h0M1508.5 436.5h0M1757.6 402.6h0M1422.4 452.9h0M1667.5 402.5h0M1667.7 443.8h0M1565.3 308.1h0M1580.4 338.1h0M1457.1 407.3h0M1712.8 420.1h0M1558.0 443.2h0M1504.2 300.9h0M1655.8 325.9h0M1690.3 448.6h0M1400.5 460.9h0M1662.7 310.4h0M1580.5 462.3h0M1679.6 450.7h0M1562.8 385.9h0M1672.0 438.5h0M1504.0 312.3h0M1463.4 343.4h0M1537.0 319.5h0M1426.0 448.3h0M1592.8 395.5h0M1651.1 387.7h0M1678.8 349.8h0M1661.6 441.6h0M1516.1 309.7h0M1567.0 423.2h0M1613.0 459.2h0M1568.2 375.3h0M1778.5 428.2h0M1675.9 338.9h0M1592.9 332.1h0M1374.5 438.4h0M1390.0 430.9h0M1780.2 384.6h0M1663.4 393.8h0M1526.4 456.8h0M1677.3 317.4h0M1666.5 380.0h0M1729.3 433.7h0M1564.7 399.3h0M1441.8 347.4h0M1497.5 462.8h0M1566.1 367.9h0M1553.9 358.9h0M1377.5 361.8h0M1408.9 448.0h0M1623.4 342.9h0M1760.8 409.3h0M1626.1 454.9h0M1607.1 423.7h0M1475.9 303.5h0M1576.2 294.2h0M1780.0 454.5h0M1525.1 436.5h0M1604.4 423.9h0M1560.2 327.8h0M1391.4 446.1h0M1643.2 462.1h0M1605.8 426.0h0M1381.5 459.3h0M1492.6 414.6h0M1562.3 428.3h0M1575.6 484.1h0M1541.3 370.9h0M1378.3 406.7h0M1726.9 386.2h0M1401.3 464.8h0M1588.2 327.8h0M1454.2 469.0h0M1768.7 417.0h0M1447.1 467.4h0M1543.3 467.7h0M1669.8 359.6h0M1371.0 378.4h0M1393.2 354.8h0M1388.9 359.3h0M1581.8 311.6h0M1686.1 384.6h0M1448.7 406.7h0M1632.6 300.2h0M1616.6 424.9h0M1731.4 459.9h0M1666.1 328.1h0M1574.4 306.0h0M1451.3 466.8h0M1478.4 446.2h0M1373.8 419.5h0M1425.5 366.4h0M1486.2 366.6h0M1381.7 378.8h0M1438.0 401.5h0M1588.0 449.7h0M1556.9 307.3h0M1439.5 324.8h0M1626.4 346.3h0M1723.3 383.1h0M1559.9 416.2h0M1694.6 447.9h0M1650.1 329.9h0M1771.9 371.7h0M1476.9 469.9h0M1373.2 428.7h0M1518.3 342.8h0M1479.5 320.9h0M1537.8 307.2h0M1641.4 373.3h0M1364.7 395.4h0M1487.9 373.1h0M1521.2 312.7h0M1562.7 475.6h0M1470.5 407.4h0M1571.0 318.8h0M1745.1 450.3h0M1634.1 305.6h0M1473.6 436.8h0M1481.7 411.9h0M1739.9 422.8h0M1480.1 425.5h0M1550.3 424.7h0M1559.1 347.9h0M1820.2 428.0h0M1505.4 471.8h0M1734.2 375.6h0M1486.3 372.4h0M1373.3 366.5h0M1520.0 432.0h0M1688.4 393.5h0M1390.6 419.6h0M1606.3 476.1h0M1494.2 472.3h0M1379.4 364.1h0M1645.7 403.5h0M1689.0 394.4h0M1582.2 410.5h0M1825.1 428.4h0M1601.3 312.0h0M1651.3 348.8h0M1668.1 342.1h0M1678.8 350.4h0M1628.2 451.2h0M1475.8 363.8h0M1539.5 388.7h0M1792.5 444.4h0M1430.8 338.3h0M1340.7 404.9h0M1581.9 293.6h0M1607.9 411.7h0M1735.3 357.4h0M1392.9 376.9h0M1805.0 407.5h0M1469.4 386.4h0M1512.1 464.3h0M1549.1 291.5h0M1575.0 402.8h0M1748.7 385.9h0M1483.1 333.4h0M1718.8 386.2h0M1388.3 419.3h0M1741.5 412.8h0M1784.4 425.2h0M1792.6 408.2h0M1646.8 446.7h0M1401.2 421.7h0M1789.2 412.0h0M1621.6 483.1h0M1758.0 433.0h0M1554.5 398.0h0M1458.8 477.8h0M1447.2 448.4h0M1643.2 430.7h0M1642.6 456.8h0M1527.3 473.7h0M1670.3 425.8h0M1759.5 422.4h0M1467.8 321.6h0M1658.2 387.3h0M1708.2 352.9h0M1442.9 463.4h0M1363.1 408.6h0M1667.4 444.7h0M1608.0 378.3h0M1385.9 405.5h0M1436.7 389.1h0M1786.2 401.7h0M1714.8 410.9h0M1412.0 455.7h0M1402.8 348.2h0M1589.5 363.5h0M1823.4 432.8h0M1778.3 451.4h0M1560.7 481.9h0M1719.2 362.3h0M1562.0 327.8h0M1696.2 424.0h0M1834.2 424.1h0M1733.9 420.8h0M1519.8 347.9h0M1815.0 434.8h0M1587.0 300.4h0M1548.0 455.3h0M1664.2 451.2h0M1656.0 393.9h0M1529.3 469.0h0M1362.1 387.1h0M1565.3 475.9h0M1816.7 438.3h0M1706.2 417.7h0M1638.1 471.3h0M1474.0 324.4h0M1480.7 409.2h0M1425.6 391.1h0M1400.6 423.0h0M1807.4 398.6h0M1459.6 348.1h0M1751.4 389.9h0M1847.7 417.5h0M1639.2 351.9h0M1506.9 425.0h0M1518.0 415.1h0M1640.8 412.2h0M1531.9 459.4h0M1520.2 474.2h0M1806.7 403.5h0M1430.8 354.9h0M1490.4 322.7h0M1561.0 340.4h0M1467.6 308.2h0M1786.0 402.7h0M1630.3 402.5h0M1699.9 336.2h0M1618.9 370.0h0M1548.8 388.3h0M1607.9 464.6h0M1555.2 405.7h0M1401.9 359.6h0M1498.6 336.8h0M1647.8 322.7h0M1739.2 351.3h0M1438.4 462.2h0M1543.9 486.2h0M1459.0 459.8h0M1645.4 361.5h0M1380.6 415.4h0M1463.0 305.5h0M1545.1 459.0h0M1575.7 440.4h0M1606.1 347.2h0M1653.3 368.5h0M1731.0 461.7h0M1607.3 386.6h0M1484.5 409.0h0M1573.2 356.7h0M1732.9 450.8h0M1465.4 303.3h0M1463.8 402.0h0M1539.3 342.3h0M1632.0 455.5h0M1573.6 326.4h0M1408.4 333.0h0M1359.8 374.6h0M1603.5 480.7h0M1811.7 424.3h0M1418.0 413.6h0M1583.3 431.5h0M1820.0 441.4h0M1500.1 470.0h0M1412.5 398.1h0M1630.1 417.3h0M1365.2 403.3h0M1366.4 397.1h0M1369.6 389.7h0M1374.6 382.3h0M1379.2 377.5h0M1384.3 374.5h0M1392.4 367.0h0M1401.1 362.7h0M1406.9 362.2h0M1409.2 359.3h0M1420.1 356.4h0M1423.1 353.2h0M1427.9 351.5h0M1436.3 349.3h0M1445.2 345.2h0M1448.2 341.2h0M1455.2 331.1h0M1457.6 327.5h0M1462.3 319.5h0M1462.7 321.1h0M1474.1 319.7h0M1480.8 319.1h0M1488.1 321.0h0M1492.0 321.5h0M1500.0 320.5h0M1503.4 319.8h0M1513.6 317.5h0M1519.9 317.3h0M1523.8 318.0h0M1534.0 316.0h0M1539.4 313.0h0M1542.5 313.8h0M1550.9 313.7h0M1555.2 311.3h0M1559.8 313.1h0M1567.9 311.0h0M1572.1 313.2h0M1585.1 312.9h0M1591.3 315.3h0M1594.3 313.4h0M1604.0 317.3h0M1609.6 319.1h0M1614.5 320.8h0M1623.0 321.0h0M1626.0 322.1h0M1629.4 323.7h0M1636.7 327.8h0M1646.3 332.0h0M1646.7 332.9h0M1657.4 338.9h0M1662.2 339.2h0M1665.7 340.7h0M1675.6 347.5h0M1677.4 350.0h0M1681.3 352.6h0M1689.8 355.2h0M1692.5 359.2h0M1701.6 364.3h0M1704.9 364.7h0M1713.8 369.5h0M1720.6 373.9h0M1725.0 376.4h0M1726.0 378.1h0M1735.7 383.4h0M1742.4 385.3h0M1742.5 386.4h0M1751.2 396.3h0M1754.3 398.1h0M1758.6 402.8h0M1759.7 408.1h0M1760.1 415.8h0M1761.0 420.8h0M1755.9 424.7h0M1754.5 428.7h0M1749.9 432.6h0M1745.1 435.7h0M1742.2 438.1h0M1732.8 444.0h0M1730.7 446.0h0M1721.0 446.8h0M1717.4 449.4h0M1708.9 452.1h0M1703.4 453.1h0M1700.0 454.8h0M1693.9 455.9h0M1685.4 457.9h0M1679.4 457.2h0M1671.5 458.4h0M1666.4 457.1h0M1657.5 458.1h0M1654.4 459.4h0M1646.8 459.0h0M1638.7 456.6h0M1635.2 457.7h0M1629.1 457.3h0M1621.8 458.3h0M1614.8 457.1h0M1609.9 457.4h0M1604.5 457.8h0M1594.6 456.6h0M1588.3 455.9h0M1580.9 455.6h0M1578.0 456.4h0M1568.3 455.4h0M1563.6 457.9h0M1557.6 455.8h0M1550.8 456.2h0M1540.5 457.1h0M1539.3 456.8h0M1530.9 457.0h0M1520.0 455.4h0M1518.5 455.4h0M1511.0 456.0h0M1503.1 457.6h0M1496.7 458.4h0M1488.6 458.7h0M1483.2 457.7h0M1476.5 458.3h0M1469.3 455.6h0M1463.0 457.7h0M1461.5 455.9h0M1451.1 455.5h0M1450.6 454.9h0M1443.9 453.2h0M1433.7 451.6h0M1432.1 450.2h0M1421.4 448.7h0M1418.9 447.0h0M1414.9 444.6h0M1404.9 442.3h0M1397.2 440.6h0M1390.2 438.6h0M1385.3 437.9h0M1378.8 436.5h0M1370.7 434.4h0M1370.5 433.9h0M1369.1 425.7h0M1367.2 421.0h0M1365.2 419.5h0M1362.7 407.5h0M1463.5 302.8h0M1578.6 499.1h0" stroke="#000" stroke-width="10.00" stroke-linecap="round" fill="none"/><path d="M1435.9 257.1h0M1459.1 294.1h0M1399.3 326.1h0M1459.6 325.4h0M1682.2 353.1h0M1723.7 375.4h0M1527.3 451.1h0M1610.5 456.1h0M1810.7 452.3h0M1738.6 517.6h0M1537.5 696.2h0M1550.7 725.1h0M1565.3 808.4h0M1567.0 489.7h0M1579.5 490.9h0" stroke="#ff0000" stroke-width="10.00" stroke-linecap="round" fill="none"/><text transform="translate(1403.74 264.40) scale(1.0637 1)" font-size="20.50" fill="#e41a1c">MMP3</text><text transform="translate(1406.43 302.00) scale(1.0134 1)" font-size="20.50" fill="#e41a1c">DEFB104A</text><text transform="translate(1372.71 332.50) scale(1.0211 1)" font-size="20.50" fill="#e41a1c">KLK3</text><text transform="translate(1422.50 332.00) scale(1.0038 1)" font-size="20.50" fill="#e41a1c">OBP2B</text><text transform="translate(1447.52 371.10) scale(1.0738 1)" font-size="20.50" fill="#e41a1c">NUDT9</text><text transform="translate(1527.47 310.30) scale(0.9338 1)" font-size="20.50" fill="#e41a1c">PSAPL1</text><text transform="translate(1607.97 336.40) scale(0.9395 1)" font-size="20.50" fill="#e41a1c">VSIG4</text><text transform="translate(1655.27 361.30) scale(1.0259 1)" font-size="20.50" fill="#e41a1c">CCN5</text><text transform="translate(1703.55 382.80) scale(1.0013 1)" font-size="20.50" fill="#e41a1c">BTD</text><text transform="translate(1480.58 457.60) scale(1.0160 1)" font-size="20.50" fill="#e41a1c">CNTNAP2</text><text transform="translate(1504.09 470.60) scale(0.9796 1)" font-size="20.50" fill="#e41a1c">PUDP</text><text transform="translate(1583.80 465.00) scale(1.0301 1)" font-size="20.50" fill="#e41a1c">LRNM</text><text transform="translate(1526.59 498.00) scale(0.9174 1)" font-size="20.50" fill="#e41a1c">MOEAC212</text><text transform="translate(1774.91 460.00) scale(0.9910 1)" font-size="20.50" fill="#e41a1c">CNTN1</text><text transform="translate(1715.60 525.20) scale(1.0275 1)" font-size="20.50" fill="#e41a1c">DCC</text><text transform="translate(1494.33 703.60) scale(0.9726 1)" font-size="20.50" fill="#e41a1c">CGA|LHB</text><text transform="translate(1468.12 733.30) scale(0.9842 1)" font-size="20.50" fill="#e41a1c">CGA|CGB3|CGB7</text><text transform="translate(1514.93 815.90) scale(0.9653 1)" font-size="20.50" fill="#e41a1c">CGA|FSHB</text><path d="M1644.6 79.1h0M1686.5 115.3h0M1580.7 148.2h0M1760.7 143.7h0M1526.1 195.7h0M1585.5 193.3h0M1599.8 192.2h0M1621.0 189.2h0M1613.3 198.2h0M1707.7 194.2h0M1595.4 206.1h0M1620.7 220.7h0M1635.8 220.1h0M1550.3 225.8h0M1556.5 224.0h0M1569.0 229.7h0M1576.0 235.2h0M1560.9 237.5h0M1491.3 238.7h0M1459.4 242.2h0M1489.0 251.8h0M1522.1 253.0h0M1607.1 245.7h0M1596.2 256.1h0M1613.7 258.5h0M1565.9 256.1h0M1570.5 257.7h0M1582.2 264.7h0M1552.7 265.5h0M1558.9 274.0h0M1572.1 275.6h0M1586.1 275.6h0M1583.7 281.0h0M1593.1 281.8h0M1610.9 270.1h0M1616.4 271.7h0M1630.4 275.6h0M1506.5 265.5h0M1447.0 271.4h0M1460.2 278.7h0M1486.6 271.7h0M1492.8 270.1h0M1500.6 280.2h0M1481.2 283.3h0M1517.7 282.6h0M1529.4 283.8h0M1539.5 283.8h0M1550.3 284.1h0M1553.4 288.8h0M1561.2 293.4h0M1595.4 293.4h0M1607.8 285.7h0M1618.7 284.1h0M1353.9 223.3h0M1425.7 245.1h0M1459.8 242.2h0M1447.5 271.2h0M1460.6 278.5h0M1430.1 292.7h0M1378.6 318.1h0M1393.1 315.9h0M1417.0 321.7h0M1373.5 344.9h0M1526.5 195.7h0M1550.4 225.6h0M1556.4 223.8h0M1561.0 237.2h0M1569.4 230.2h0M1575.8 235.1h0M1565.9 255.6h0M1571.6 258.0h0M1552.9 266.1h0M1558.2 273.2h0M1571.6 275.6h0M1506.0 265.4h0M1487.7 271.4h0M1493.0 272.1h0M1481.4 283.0h0M1501.1 280.2h0M1518.7 282.0h0M1530.0 283.7h0M1538.8 283.7h0M1551.1 285.5h0M1392.6 315.5h0M1707.3 193.9h0M1752.9 205.8h0M1645.2 216.3h0M1655.4 214.4h0M1661.2 210.5h0M1667.4 218.7h0M1669.4 230.7h0M1703.1 238.9h0M1750.2 241.6h0M1648.7 256.0h0M1658.1 264.9h0M1691.2 255.6h0M1709.4 262.3h0M1810.4 250.9h0M1807.3 256.3h0M1808.8 267.5h0M1749.0 269.1h0M1756.4 268.8h0M1770.0 271.6h0M1777.0 270.0h0M1793.3 273.4h0M1798.4 288.7h0M1797.9 301.7h0M1818.1 294.4h0M1764.5 298.3h0M1736.5 284.0h0M1744.3 307.6h0M1717.1 281.5h0M1703.6 276.9h0M1710.1 292.9h0M1714.0 293.6h0M1717.9 302.2h0M1630.9 275.8h0M1638.6 285.9h0M1653.9 281.2h0M1654.2 289.0h0M1669.7 282.0h0M1675.9 282.0h0M1683.7 296.8h0M1693.0 296.8h0M1699.3 299.1h0M1620.0 271.9h0M1800.0 288.9h0M1800.0 302.2h0M1818.7 295.1h0M1909.1 266.0h0M1939.8 315.5h0M1837.3 318.3h0M1803.3 332.9h0M1808.6 341.2h0M1841.5 342.5h0M1868.0 332.0h0M1873.8 337.0h0M1823.2 352.8h0M1813.3 359.4h0M1836.5 359.7h0M1859.7 362.7h0M1856.4 367.7h0M1873.0 362.7h0M1884.6 365.2h0M1925.2 362.7h0M1952.9 358.6h0M1829.0 371.0h0M1819.9 371.0h0M1803.3 372.7h0M1932.7 385.9h0M1960.9 395.9h0M1879.6 394.2h0M1892.0 394.2h0M1908.6 394.2h0M1925.2 398.4h0M1861.4 384.3h0M1864.7 392.6h0M1849.8 381.8h0M1839.8 384.3h0M1828.2 382.6h0M1815.8 383.4h0M1810.0 394.2h0M1823.2 394.2h0M1839.8 392.6h0M1900.3 398.2h0M1926.0 399.9h0M1910.3 404.9h0M1910.8 409.9h0M1926.4 412.3h0M1941.8 414.8h0M1947.6 409.5h0M1953.4 403.2h0M1877.9 406.5h0M1885.4 410.2h0M1892.9 424.4h0M1899.5 424.8h0M1905.3 426.4h0M1896.2 439.4h0M1902.0 453.8h0M1908.6 461.3h0M1936.8 468.7h0M1853.9 476.2h0M1822.4 490.3h0M1944.3 495.3h0M1809.1 521.8h0M1815.8 527.6h0M1856.4 400.7h0M1861.4 405.7h0M1865.5 409.0h0M1868.8 415.7h0M1858.0 417.3h0M1863.0 421.5h0M1847.3 414.0h0M1859.7 437.2h0M1868.0 431.4h0M1843.9 440.5h0M1833.2 439.7h0M1826.5 442.2h0M1863.0 390.0h0M1865.5 394.1h0M1730.5 476.6h0M1715.5 481.6h0M1720.5 489.7h0M1703.7 494.6h0M1765.9 474.7h0M1769.0 484.7h0M1783.3 486.5h0M1793.9 473.5h0M1774.6 466.0h0M1784.6 466.6h0M1794.5 466.0h0M1821.9 490.3h0M1854.0 476.2h0M1713.1 507.7h0M1751.0 508.9h0M1759.7 507.1h0M1765.3 508.3h0M1724.3 528.8h0M1712.4 535.0h0M1701.2 527.0h0M1809.5 522.0h0M1815.7 527.6h0M1859.2 436.2h0M1867.9 431.8h0M1843.0 440.5h0M1760.9 458.6h0M1767.2 456.7h0M1712.4 459.8h0M1733.6 457.3h0M1694.7 506.0h0M1656.1 517.6h0M1698.4 527.9h0M1690.6 486.4h0M1684.0 477.3h0M1688.9 471.5h0M1669.0 493.9h0M1656.6 486.4h0M1663.2 486.4h0M1643.3 484.8h0M1643.3 574.3h0M1712.1 459.9h0M1734.5 456.6h0M1747.8 453.3h0M1762.7 458.2h0M1775.2 465.7h0M1794.2 472.3h0M1765.8 474.9h0M1775.8 465.8h0M1784.0 466.3h0M1794.0 473.3h0M1795.7 465.0h0M1470.8 493.3h0M1460.8 499.9h0M1490.7 501.6h0M1499.5 504.9h0M1527.2 501.9h0M1550.4 505.7h0M1556.5 516.2h0M1569.1 502.4h0M1550.9 536.1h0M1519.4 546.7h0M1463.0 562.1h0M1583.5 530.2h0M1599.0 523.4h0M1605.6 512.8h0M1613.9 515.2h0M1613.4 530.6h0M1608.9 496.6h0M1630.8 491.6h0M1631.6 504.0h0M1630.8 509.0h0M1655.7 518.1h0M1643.7 486.6h0M1654.0 488.3h0M1603.0 579.5h0M1642.1 575.4h0M1565.8 635.6h0M1504.8 482.5h0M1516.4 484.1h0M1473.3 481.7h0M1566.0 635.8h0M1556.4 652.4h0M1300.0 444.1h0M1327.4 449.1h0M1334.8 447.5h0M1347.3 458.6h0M1358.0 446.6h0M1366.3 446.6h0M1373.0 445.0h0M1368.8 464.0h0M1375.5 459.9h0M1375.5 479.0h0M1377.9 505.5h0M1382.9 453.3h0M1387.9 464.9h0M1394.5 455.8h0M1402.8 472.3h0M1412.8 471.5h0M1401.2 466.5h0M1412.4 459.1h0M1417.7 500.5h0M1432.7 511.0h0M1436.8 523.7h0M1428.5 477.8h0M1445.1 480.6h0M1459.2 500.5h0M1466.7 479.5h0M1461.7 562.4h0M1422.7 463.2h0M1429.4 459.9h0M1432.7 471.5h0M1296.2 349.9h0M1303.2 370.7h0M1299.3 381.3h0M1342.1 360.8h0M1353.8 359.5h0M1365.9 354.9h0M1363.1 364.5h0M1346.0 373.5h0M1353.0 371.2h0M1353.0 381.3h0M1353.0 386.8h0M1374.8 345.6h0M1381.8 348.7h0M1338.2 389.9h0M1304.8 403.1h0M1311.0 407.8h0M1321.1 400.0h0M1327.3 396.9h0M1333.5 398.4h0M1315.7 423.3h0M1321.1 421.8h0M1328.9 418.6h0M1318.0 426.4h0M1336.7 423.3h0M1342.9 424.9h0M1332.8 435.8h0M1346.0 434.2h0M1298.6 444.3h0M1327.3 449.0h0M1335.1 447.4h0M1347.5 458.8h0M1358.4 446.6h0M1367.8 448.2h0M1375.5 442.0h0M1367.8 463.7h0M1375.5 477.0h0M1381.8 451.3h0M1386.4 465.3h0M1392.6 454.4h0M1398.9 465.3h0M1405.1 471.5h0M1412.9 459.1h0M1422.2 460.6h0M1426.9 470.0h0M1433.1 448.2h0M1398.9 445.1h0M1199.3 322.4h0M1239.9 397.5h0M1302.6 404.5h0M1306.8 403.6h0M1310.9 408.6h0M1317.5 406.1h0M1315.9 422.7h0M1318.4 426.9h0M1298.5 444.6h0M1295.7 350.0h0M1341.5 360.6h0M1364.4 355.3h0M1374.9 345.4h0M1431.6 286.9h0M1438.1 288.3h0M1437.1 302.1h0M1378.6 318.1h0M1393.1 315.9h0M1417.0 321.7h0M1425.7 245.1h0" stroke="#000" stroke-width="10.00" stroke-linecap="round" fill="none"/><rect x="1161.6" y="44.5" width="836.8" height="801.0" fill="none" stroke="#333333" stroke-width="1.8"/><line x1="1157.1" x2="1161.6" y1="728.8" y2="728.8" stroke="#bbb" stroke-width="1"/><text transform="translate(1121.15 739.70) scale(1.1000 1)" font-size="31.60" fill="#4d4d4d">-2</text><line x1="1157.1" x2="1161.6" y1="567.0" y2="567.0" stroke="#bbb" stroke-width="1"/><text transform="translate(1121.15 577.90) scale(1.1000 1)" font-size="31.60" fill="#4d4d4d">-1</text><line x1="1157.1" x2="1161.6" y1="405.2" y2="405.2" stroke="#bbb" stroke-width="1"/><text transform="translate(1132.42 416.10) scale(1.1000 1)" font-size="31.60" fill="#4d4d4d">0</text><line x1="1157.1" x2="1161.6" y1="243.4" y2="243.4" stroke="#bbb" stroke-width="1"/><text transform="translate(1132.70 254.30) scale(1.1000 1)" font-size="31.60" fill="#4d4d4d">1</text><line x1="1157.1" x2="1161.6" y1="81.6" y2="81.6" stroke="#bbb" stroke-width="1"/><text transform="translate(1132.70 92.50) scale(1.1000 1)" font-size="31.60" fill="#4d4d4d">2</text><text transform="translate(1360.88 875.60) scale(1.1000 1)" font-size="31.60" fill="#4d4d4d">8</text><text transform="translate(1582.06 875.60) scale(1.1000 1)" font-size="31.60" fill="#4d4d4d">12</text><text transform="translate(1813.28 875.60) scale(1.1000 1)" font-size="31.60" fill="#4d4d4d">16</text><text transform="translate(13.48 60.50) scale(0.9404 1)" font-size="55.50" fill="#000">a</text><text transform="translate(1059.63 59.50) scale(0.9920 1)" font-size="55.50" fill="#000">b</text><text transform="translate(319.42 940.60) scale(1.0090 1)" font-size="55.30" fill="#000">log</text><text transform="translate(392.76 952.80) scale(1.0706 1)" font-size="37.60" fill="#000">2</text><text transform="translate(424.87 940.60) scale(1.0098 1)" font-size="55.30" fill="#000">(fold change)</text><text transform="translate(1358.58 940.80) scale(1.0048 1)" font-size="55.60" fill="#000">Mean (log</text><text transform="translate(1605.76 952.80) scale(1.0706 1)" font-size="37.60" fill="#000">2</text><text transform="translate(1642.52 940.80) scale(1.0192 1)" font-size="55.60" fill="#000">[RFU])</text><text transform="translate(58.50 631.71) rotate(-90) scale(1.0052 1)" font-size="55.30" fill="#000">-log</text><text transform="translate(64.60 537.23) rotate(-90) scale(0.9547 1)" font-size="37.60" fill="#000">10</text><text transform="translate(58.50 484.78) rotate(-90) scale(0.7931 1)" font-size="55.30" fill="#000">(</text><text transform="translate(58.50 459.45) rotate(-90) scale(0.7570 1)" font-size="55.30" fill="#000" font-style="italic">p</text><text transform="translate(58.50 437.36) rotate(-90) scale(1.0233 1)" font-size="55.30" fill="#000">-value)</text><text transform="translate(1095.10 662.99) rotate(-90) scale(1.0376 1)" font-size="55.30" fill="#000">log</text><text transform="translate(1107.40 587.75) rotate(-90) scale(1.0235 1)" font-size="37.60" fill="#000">2</text><text transform="translate(1095.10 556.53) rotate(-90) scale(1.0095 1)" font-size="55.30" fill="#000">(fold change)</text></svg></body></html>
